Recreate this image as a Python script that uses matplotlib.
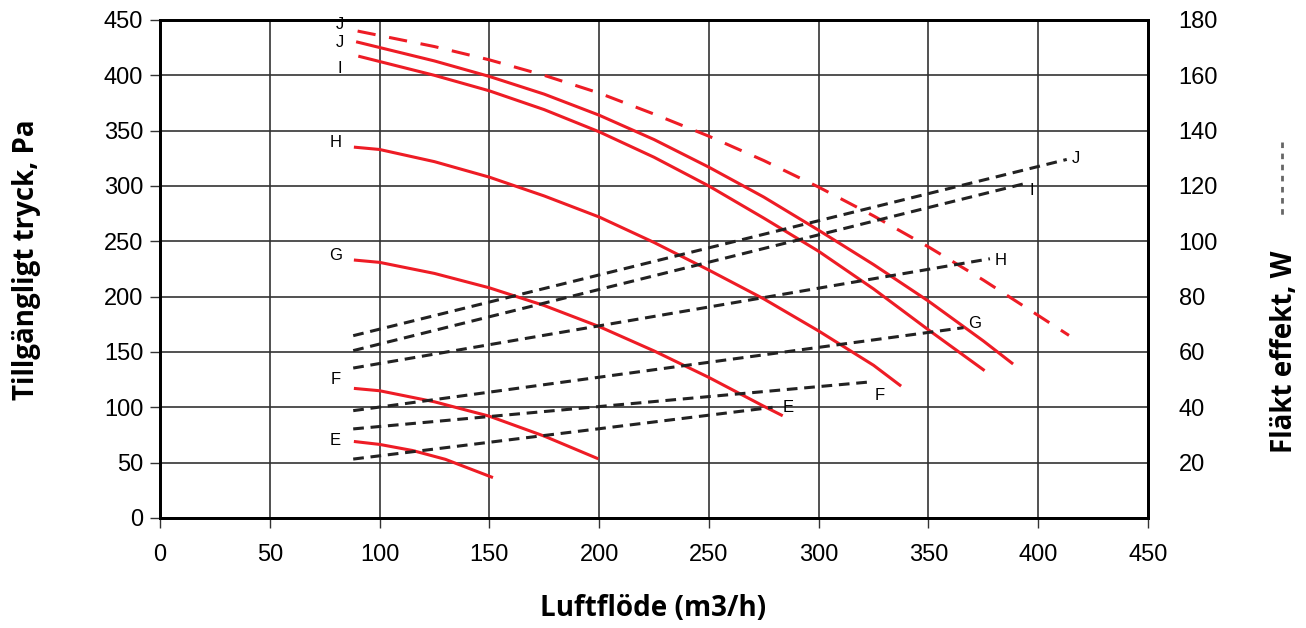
import matplotlib.pyplot as plt

# pressure curves (Pa) per fan step
flow_Jd = [90, 125, 150, 175, 200, 225, 250, 275, 300, 325, 350, 375, 400, 414]
pa_Jd = [440, 426, 414, 400, 384, 365, 345, 323, 299, 273, 245, 215, 183, 165]
flow_J = [90, 125, 150, 175, 200, 225, 250, 275, 300, 325, 350, 375, 388]
pa_J = [430, 413, 399, 383, 364, 342, 317, 290, 260, 229, 196, 160, 140]
flow_I = [91, 125, 150, 175, 200, 225, 250, 275, 300, 325, 350, 375]
pa_I = [417, 400, 386, 369, 349, 326, 300, 271, 241, 207, 170, 134]
flow_H = [89, 100, 125, 150, 175, 200, 225, 250, 275, 300, 325, 337]
pa_H = [335, 333, 322, 308, 291, 272, 249, 224, 198, 169, 138, 120]
flow_G = [89, 100, 125, 150, 175, 200, 225, 250, 275, 283]
pa_G = [233, 231, 221, 208, 192, 173, 151, 127, 101, 93]
flow_F = [89, 100, 125, 150, 175, 199]
pa_F = [117, 115, 105, 92, 74, 54]
flow_E = [89, 100, 115, 130, 151]
pa_E = [69, 66.5, 61, 53, 37]

# fan power lines (W), start/end
steps = ["J", "I", "H", "G", "F", "E"]
w_flow_start = [88, 88, 88, 88, 88, 88]
w_flow_end = [413, 393, 378, 366, 325, 279]
w_start = [65.9, 60.5, 54.2, 38.8, 32.2, 21.3]
w_end = [129.6, 120.7, 93.7, 68.8, 49.3, 40.0]

fig = plt.figure(figsize=(13.06, 6.28), dpi=100)
ax = fig.add_axes([160/1306, 1-518/628, 988/1306, 498/628])
ax2 = ax.twinx()

red = "#ee1c25"
ax.plot(flow_Jd, pa_Jd, color=red, lw=2.2, dashes=(6, 4.5))
for fx, py in [(flow_J, pa_J), (flow_I, pa_I), (flow_H, pa_H), (flow_G, pa_G),
               (flow_F, pa_F), (flow_E, pa_E)]:
    ax.plot(fx, py, color=red, lw=2.2)

for i in range(len(steps)):
    ax2.plot([w_flow_start[i], w_flow_end[i]], [w_start[i], w_end[i]],
             color="#222222", lw=2.2, dashes=(3.5, 2.2))

ax.set_xlim(0, 450)
ax.set_ylim(0, 450)
ax2.set_ylim(0, 180)
ax.set_xticks(range(0, 451, 50))
ax.set_yticks(range(0, 451, 50))
ax2.set_yticks(range(20, 181, 20))
ax.grid(True, color="#333333", lw=1.2)
ax.set_axisbelow(True)

ax.tick_params(axis="both", labelsize=17, length=7, width=1, color="#333333", pad=5)
ax.tick_params(axis="x", pad=12)
ax2.tick_params(axis="y", labelsize=17, length=0, pad=22)
for a in (ax, ax2):
    for s in a.spines.values():
        s.set_linewidth(2)
        s.set_color("black")
for lbl in ax.get_xticklabels() + ax.get_yticklabels() + ax2.get_yticklabels():
    lbl.set_family("Liberation Sans")

# curve labels
lf = dict(fontsize=12, family="Liberation Sans", ha="center", va="center")
left_lbl = [("J", 82, 446), ("J", 82, 430), ("I", 82, 406), ("H", 80, 339),
            ("G", 80, 237), ("F", 80, 125), ("E", 80, 70)]
for t, x, y in left_lbl:
    ax.text(x, y, t, **lf)
right_lbl = [("J", 417, 325), ("I", 397, 296), ("H", 383, 233), ("G", 371, 176),
             ("F", 328, 111), ("E", 286, 100)]
for t, x, y in right_lbl:
    ax.text(x, y, t, **lf)

fig.text(653/1306, 1-609/628, "Luftflöde (m3/h)", ha="center", va="center",
         fontsize=20, fontweight="bold", family="Open Sans")
fig.text(27/1306, 1-260/628, "Tillgängligt tryck, Pa", ha="center", va="center",
         rotation=90, fontsize=20, fontweight="bold", family="Open Sans")
fig.text(1285/1306, 1-352/628, "Fläkt effekt, W", ha="center", va="center",
         rotation=90, fontsize=20, fontweight="bold", family="Open Sans")
fig.add_artist(plt.Line2D([1282/1306, 1282/1306], [1-142/628, 1-218/628],
                          color="#666666", lw=2, dashes=(2, 2)))

fig.savefig("out.png", dpi=100)
